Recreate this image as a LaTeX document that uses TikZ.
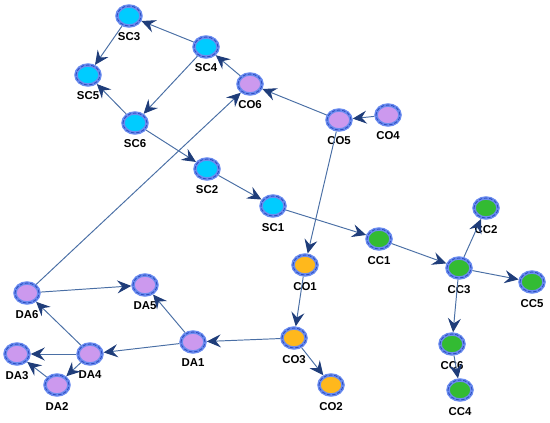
\documentclass[tikz,border=0pt]{standalone}
\usepackage{fontspec}
\setsansfont{Liberation Sans}
\usetikzlibrary{shapes.geometric,arrows.meta}

\definecolor{sccol}{HTML}{00CCFF}
\definecolor{cocol}{HTML}{CC99EE}
\definecolor{cccol}{HTML}{33BB33}
\definecolor{oycol}{HTML}{FFB81C}
\definecolor{ringlight}{HTML}{6A8CF0}
\definecolor{ringdark}{HTML}{2F4FC0}
\definecolor{edgecol}{HTML}{4A6FA5}
\definecolor{tipcol}{HTML}{1F3D7A}

\tikzset{
  unit/.style={ellipse, minimum width=0.48cm, minimum height=0.40cm, inner sep=0pt,
    draw=ringlight, line width=2pt,
    postaction={draw=ringdark, line width=0.5pt, dash pattern=on 2pt off 1pt}},
  lbl/.style={font=\sffamily\bfseries\fontsize{6.5}{7}\selectfont, inner sep=1pt},
  link/.style={draw=edgecol, line width=0.55pt,
    -{Stealth[length=2.8mm,width=2.6mm,inset=1mm,color=tipcol]}}
}

\begin{document}
\begin{tikzpicture}[x=0.02cm,y=-0.02cm,label distance=1.8pt]
  \useasboundingbox (0,0) rectangle (550,422);
  % nodes
  \node[unit,fill=sccol,label={[lbl]below:SC3}] (SC3) at (129,16) {};
  \node[unit,fill=sccol,label={[lbl]below:SC4}] (SC4) at (206,47) {};
  \node[unit,fill=sccol,label={[lbl]below:SC5}] (SC5) at (88,75) {};
  \node[unit,fill=sccol,label={[lbl]below:SC6}] (SC6) at (135,123) {};
  \node[unit,fill=sccol,label={[lbl]below:SC2}] (SC2) at (207,169) {};
  \node[unit,fill=sccol,label={[lbl]below:SC1}] (SC1) at (273,206) {};
  \node[unit,fill=cocol,label={[lbl]below:CO6}] (CO6) at (250,84) {};
  \node[unit,fill=cocol,label={[lbl]below:CO5}] (CO5) at (339,120) {};
  \node[unit,fill=cocol,label={[lbl]below:CO4}] (CO4) at (388,115) {};
  \node[unit,fill=oycol,label={[lbl]below:CO1}] (CO1) at (305,265) {};
  \node[unit,fill=oycol,label={[lbl]below:CO3}] (CO3) at (294,338) {};
  \node[unit,fill=oycol,label={[lbl]below:CO2}] (CO2) at (331,385) {};
  \node[unit,fill=cccol,label={[lbl]below:CC1}] (CC1) at (379,239) {};
  \node[unit,fill=cccol,label={[lbl]below:CC2}] (CC2) at (486,208) {};
  \node[unit,fill=cccol,label={[lbl]below:CC3}] (CC3) at (459,268) {};
  \node[unit,fill=cccol,label={[lbl]below:CC5}] (CC5) at (532,282) {};
  \node[unit,fill=cccol,label={[lbl]below:CC6}] (CC6) at (452,344) {};
  \node[unit,fill=cccol,label={[lbl]below:CC4}] (CC4) at (460,390) {};
  \node[unit,fill=cocol,label={[lbl]below:DA6}] (DA6) at (27,293) {};
  \node[unit,fill=cocol,label={[lbl]below:DA5}] (DA5) at (145,285) {};
  \node[unit,fill=cocol,label={[lbl]below:DA1}] (DA1) at (193,342) {};
  \node[unit,fill=cocol,label={[lbl]below:DA4}] (DA4) at (90,354) {};
  \node[unit,fill=cocol,label={[lbl]below:DA3}] (DA3) at (17,354) {};
  \node[unit,fill=cocol,label={[lbl]below:DA2}] (DA2) at (57,385) {};
  % links
  \foreach \a/\b in {SC4/SC3,SC3/SC5,SC4/SC6,SC6/SC5,SC6/SC2,CO6/SC4,CO5/CO6,
      CO4/CO5,DA6/CO6,SC2/SC1,SC1/CC1,CO5/CO1,CC1/CC3,CC3/CC2,CC3/CC5,CC3/CC6,
      CC6/CC4,CO1/CO3,CO3/CO2,CO3/DA1,DA1/DA5,DA1/DA4,DA4/DA6,DA6/DA5,DA4/DA3,
      DA4/DA2,DA2/DA3}
    \draw[link] (\a) -- (\b);
\end{tikzpicture}
\end{document}
